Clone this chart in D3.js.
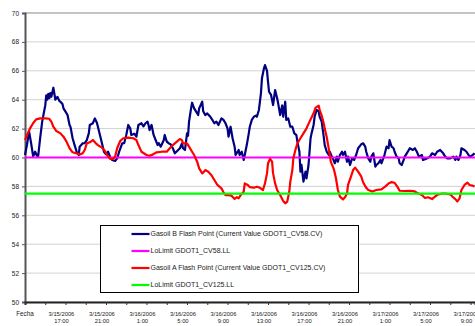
<!DOCTYPE html>
<html>
<head>
<meta charset="utf-8">
<script src="https://cdn.jsdelivr.net/npm/d3@7/dist/d3.min.js"></script>
<style>
  body { margin: 0; background: #fff; }
  svg { display: block; font-family: "Liberation Sans", Arial, sans-serif; }
</style>
</head>
<body>
<svg width="475" height="326"></svg>
<script>
// samples every 6 minutes, sample 0 = 3/15/2006 13:24
var yTicks = [50, 52, 54, 56, 58, 60, 62, 64, 66, 68, 70];
var xLabels = ["Fecha", "3/15/2006|17:00", "3/15/2006|21:00", "3/16/2006|1:00", "3/16/2006|5:00",
  "3/16/2006|9:00", "3/16/2006|13:00", "3/16/2006|17:00", "3/16/2006|21:00", "3/17/2006|1:00",
  "3/17/2006|5:00", "3/17/2006|9:00"];
var xLabelSamples = [0, 36, 76, 116, 156, 196, 236, 276, 316, 356, 396, 436];
var xTickSamples = d3.range(0, 445, 20);

var seriesNames = ["Gasoil B Flash Point (Current Value GDOT1_CV58.CV)", "LoLimit GDOT1_CV58.LL",
  "Gasoil A Flash Point (Current Value GDOT1_CV125.CV)", "LoLimit GDOT1_CV125.LL"];
var seriesColors = ["#000080", "#ff00ff", "#ff0000", "#00ff00"];

var gasoilBSamples = [0,2,4,6,8,9,10,12,13,15,17,20,21,22,23,24,25,26,28,30,32,34,35,37,38,40,42,44,45,47,49,51,53,54,57,59,61,63,64,67,69,71,72,74,76,78,80,82,84,86,89,91,93,96,98,100,102,104,105,108,110,112,115,117,119,121,122,123,125,127,129,131,132,134,137,138,140,142,144,146,148,151,153,155,156,158,160,161,162,164,165,167,169,171,172,175,176,178,180,183,185,187,189,191,194,196,198,200,201,203,205,207,208,211,212,214,216,217,219,221,222,224,226,228,229,231,233,234,236,237,239,240,241,243,245,247,249,250,252,254,255,257,258,260,262,264,266,268,269,271,272,273,275,277,278,280,281,282,283,285,286,288,290,291,293,295,296,298,300,301,303,304,306,308,309,311,313,314,316,318,319,321,323,325,327,329,332,334,336,337,339,341,342,344,346,347,349,351,352,355,357,359,360,362,364,365,367,369,370,372,374,375,377,379,380,383,385,387,389,392,393,397,400,402,405,407,410,413,415,417,420,423,425,426,428,430,431,434,436,438,440,444];
var gasoilB = [60.17,60.9,61.8,61.0,60.1,60.2,60.4,60.1,60.1,61.35,62.5,63.6,64.3,64.0,64.4,64.1,64.45,64.2,64.83,64.0,64.2,63.9,63.86,63.7,63.4,63.17,62.94,62.25,62.1,61.33,60.86,60.4,60.17,60.75,60.98,61.0,61.2,61.67,62.25,62.37,62.7,62.4,62.13,61.56,60.98,60.4,60.22,60.4,60.05,59.83,59.76,59.94,60.4,60.98,61.0,61.56,62.25,62.0,61.56,61.65,61.44,62.25,62.37,62.15,62.37,62.48,62.25,61.9,62.25,61.56,61.21,60.86,61.0,60.75,61.2,61.56,61.1,60.98,60.9,60.64,60.29,60.5,60.64,60.98,60.64,60.52,61.67,61.5,62.48,63.4,63.79,63.4,63.17,62.94,63.4,63.86,63.2,62.94,63.05,62.82,62.6,62.37,62.48,62.25,62.71,62.6,62.37,62.02,61.44,62.13,61.33,60.75,60.17,60.52,60.17,60.4,59.83,60.17,60.86,61.67,62.13,62.6,62.82,62.9,62.82,63.29,64.44,65.48,66.17,66.4,66.0,65.25,64.55,64.33,63.63,64.67,64.1,63.75,62.94,63.6,62.82,63.86,62.6,62.7,62.13,62.13,61.67,61.55,61.1,60.4,59.02,59.5,58.33,59.02,58.56,59.48,60.4,61.33,61.67,62.25,62.82,63.29,63.2,62.82,62.48,61.44,60.86,60.4,60.17,60.4,60.06,59.94,59.6,60.06,59.71,60.17,60.4,60.17,60.4,59.71,60.06,59.48,59.94,59.83,60.17,60.64,60.91,60.98,60.75,60.4,59.94,59.71,60.06,60.29,59.37,59.48,59.6,59.83,59.6,60.17,60.75,60.64,61.21,60.75,60.64,60.4,60.06,59.94,59.6,59.48,59.83,60.06,60.29,60.52,60.64,60.52,60.64,60.4,60.06,60.17,59.83,59.94,60.06,60.29,60.17,60.4,60.52,60.29,60.06,59.94,59.94,60.06,59.83,60.06,59.83,60.17,60.64,60.52,60.4,60.17,60.06,60.29];

var gasoilASamples = [0,2,5,8,11,15,20,24,26,28,31,35,38,41,44,47,51,54,57,59,61,64,67,70,72,76,79,81,84,87,89,91,94,97,102,107,110,112,115,120,123,126,130,135,140,143,146,150,153,155,156,160,162,165,167,170,172,175,176,178,181,184,187,190,194,196,198,201,204,207,209,211,213,216,217,220,222,226,229,232,235,237,239,240,242,244,245,247,249,252,255,257,259,261,262,264,265,267,269,272,275,278,281,285,287,290,291,293,295,296,298,300,302,305,307,309,311,314,316,318,319,322,324,326,329,332,334,337,339,343,347,352,356,359,362,365,368,370,375,380,385,388,392,395,398,402,405,408,412,415,420,422,425,427,429,431,434,437,439,442,444];
var gasoilA = [61.21,61.56,62.02,62.37,62.64,62.71,62.71,62.68,62.48,62.13,61.83,61.67,61.44,61.1,60.64,60.36,60.29,60.2,60.3,60.52,60.98,61.05,61.21,60.98,60.86,60.68,60.45,60.17,59.9,59.9,60.06,60.64,61.14,61.33,61.37,61.33,61.21,60.86,60.4,60.17,60.12,60.2,60.36,60.4,60.4,60.64,60.86,61.1,61.28,61.2,60.98,60.98,60.75,60.4,60.17,59.71,59.25,58.9,58.95,59.13,59.02,58.79,58.44,58.1,57.87,57.59,57.4,57.4,57.36,57.13,57.25,57.18,57.4,57.63,58.21,58.1,57.95,57.91,57.98,57.9,57.75,58.21,58.9,59.6,59.9,59.71,58.9,58.21,57.75,57.4,56.99,56.83,56.95,57.63,58.33,59.13,59.94,60.52,60.98,61.33,61.67,62.02,62.48,63.06,63.45,63.59,63.3,62.9,62.37,62.0,61.4,60.6,59.71,59.2,58.6,57.75,57.29,57.1,57.25,57.5,58.1,58.7,59.13,59.3,59.02,58.7,58.27,57.9,57.75,57.65,57.75,57.8,58.0,58.2,58.3,58.25,57.95,57.7,57.68,57.7,57.65,57.52,57.4,57.2,57.25,57.12,57.3,57.45,57.5,57.5,57.45,57.3,57.12,56.96,57.15,57.75,58.1,58.26,58.1,58.05,58.0];

var limitSamples = [0, 444.4];
var loLimitB = [60, 60];
var loLimitA = [57.5, 57.5];

var svg = d3.select("svg");
var x = d3.scaleLinear().domain([0, 444.4]).range([25, 475]);
var y = d3.scaleLinear().domain([50, 70]).range([302, 13]);

// gridlines
svg.append("g")
  .selectAll("line")
  .data(yTicks)
  .enter()
  .append("line")
    .attr("x1", x(0))
    .attr("x2", 475)
    .attr("y1", function (d) { return y(d); })
    .attr("y2", function (d) { return y(d); })
    .attr("stroke", function (d) { return d === 70 ? "#8a8a8a" : "#d2d2d2"; })
    .attr("stroke-width", function (d) { return d === 70 ? 1.2 : 1; });

// y axis
var yAxis = svg.append("g")
  .attr("transform", "translate(" + x(0) + ",0)")
  .call(d3.axisLeft(y).tickValues(yTicks).tickSize(3).tickPadding(3));
yAxis.select(".domain").attr("stroke", "#555").attr("stroke-width", 2);
yAxis.selectAll(".tick line").attr("stroke", "#555");
yAxis.selectAll(".tick text").attr("font-size", 6.5).attr("fill", "#222")
  .attr("font-family", "Liberation Sans, Arial, sans-serif");

// x axis
var xAxis = svg.append("g")
  .attr("transform", "translate(0," + y(50) + ")")
  .call(d3.axisBottom(x).tickValues(xTickSamples).tickSize(3).tickFormat(""));
xAxis.select(".domain").attr("stroke", "#222").attr("stroke-width", 2);
xAxis.selectAll(".tick line").attr("stroke", "#333");

var lab = svg.append("g")
  .selectAll("text")
  .data(xLabels)
  .enter()
  .append("text")
    .attr("text-anchor", "middle")
    .attr("font-size", function (d, i) { return i === 0 ? 6.3 : 5.8; })
    .attr("fill", "#222")
    .attr("x", function (d, i) { return x(xLabelSamples[i]); })
    .attr("y", 316);
lab.each(function (d, i) {
  var parts = d.split("|");
  var t = d3.select(this);
  parts.forEach(function (p, k) {
    t.append("tspan")
      .attr("x", x(xLabelSamples[i]))
      .attr("dy", k === 0 ? 0 : 6.8)
      .text(p);
  });
});

// series
function drawSeries(xs, vs, color) {
  var line = d3.line()
    .x(function (d, i) { return x(xs[i]); })
    .y(function (d) { return y(d); });
  svg.append("path")
    .datum(vs)
    .attr("d", line)
    .attr("fill", "none")
    .attr("stroke", color)
    .attr("stroke-width", 2.2)
    .attr("stroke-linejoin", "round");
}
drawSeries(gasoilBSamples, gasoilB, seriesColors[0]);
drawSeries(limitSamples, loLimitB, seriesColors[1]);
drawSeries(gasoilASamples, gasoilA, seriesColors[2]);
drawSeries(limitSamples, loLimitA, seriesColors[3]);

// legend
var legend = svg.append("g");
legend.append("rect")
  .attr("x", 100.5).attr("y", 225.5)
  .attr("width", 258).attr("height", 67)
  .attr("fill", "#fff")
  .attr("stroke", "#000")
  .attr("stroke-width", 1);
var rows = legend.selectAll("g.row")
  .data(seriesNames)
  .enter()
  .append("g")
    .attr("transform", function (d, i) { return "translate(0," + (234 + i * 17) + ")"; });
rows.append("line")
  .attr("x1", 131.5).attr("x2", 149.5)
  .attr("stroke", function (d, i) { return seriesColors[i]; })
  .attr("stroke-width", 2.2);
rows.append("text")
  .attr("x", 150.5)
  .attr("dy", "0.35em")
  .attr("font-size", 7)
  .attr("fill", "#222")
  .text(function (d) { return d; });
</script>
</body>
</html>
